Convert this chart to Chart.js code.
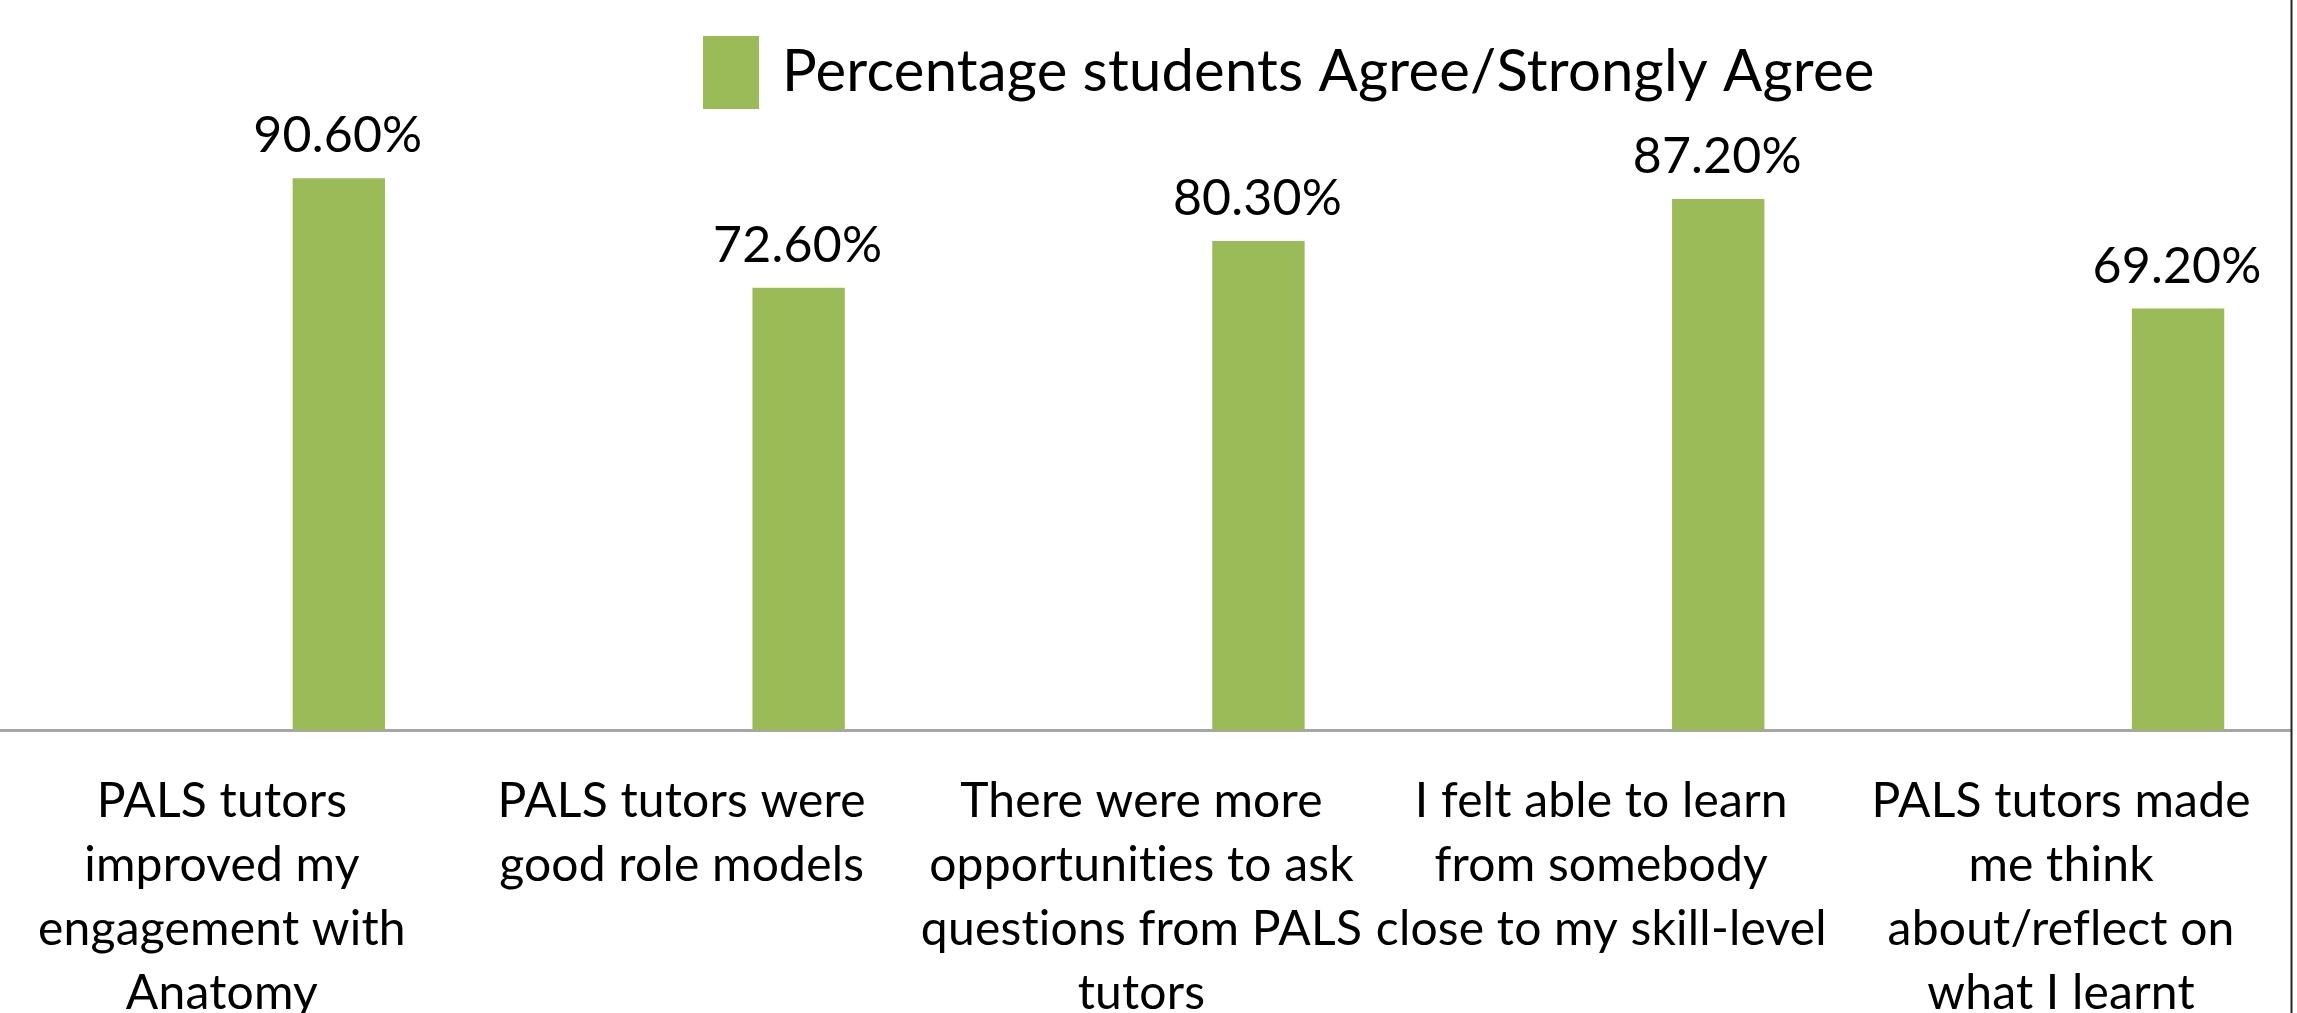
<!DOCTYPE html>
<html>
<head>
<meta charset="utf-8">
<script src="https://cdn.jsdelivr.net/npm/chart.js@4.4.0/dist/chart.umd.min.js"></script>
<style>
  html, body { margin: 0; padding: 0; background: #ffffff; overflow: hidden; width: 2297px; height: 1013px; }
  #wrap { position: absolute; left: -8px; top: 0; width: 2305px; height: 1013px; }
  canvas { display: block; }
</style>
</head>
<body>
<div id="wrap"><canvas id="c" width="2305" height="1013"></canvas></div>
<script>
// ---- data ----
const categories = [
  ["PALS tutors", "improved my", "engagement with", "Anatomy"],
  ["PALS tutors were", "good role models"],
  ["There were more", "opportunities to ask", "questions from PALS", "tutors"],
  ["I felt able to learn", "from somebody", "close to my skill-level"],
  ["PALS tutors made", "me think", "about/reflect on", "what I learnt"]
];
const seriesName = "Percentage students Agree/Strongly Agree";
const agreeValues = [90.6, 72.6, 80.3, 87.2, 69.2];
// empty series occupying the first two slots of each cluster (no bars drawn)
const emptySeriesA = [null, null, null, null, null];
const emptySeriesB = [null, null, null, null, null];
const valueLabels = ["90.60%", "72.60%", "80.30%", "87.20%", "69.20%"];
const yMin = 0, yMax = 100;

const GREEN = "#9BBB59";
const FONT = "Lato, 'Open Sans', 'DejaVu Sans', sans-serif";

const noLigaturePlugin = {
  id: "noLigatures",
  beforeDraw(chart) {
    try { chart.ctx.letterSpacing = "0.2px"; } catch (e) {}
  }
};

const dataLabelPlugin = {
  id: "dataLabels",
  afterDatasetsDraw(chart) {
    const ctx = chart.ctx;
    const dsIndex = 2;
    const meta = chart.getDatasetMeta(dsIndex);
    ctx.save();
    ctx.fillStyle = "#000000";
    ctx.font = "50px " + FONT;
    ctx.textAlign = "center";
    ctx.textBaseline = "alphabetic";
    meta.data.forEach((bar, i) => {
      ctx.fillText(valueLabels[i], bar.x - 1, bar.y - 26);
    });
    ctx.restore();
  }
};

const legendPlugin = {
  id: "customLegend",
  afterDraw(chart) {
    const ds = chart.data.datasets[2];
    const ctx = chart.ctx;
    const off = 8; // canvas shifted left by 8px
    ctx.save();
    ctx.fillStyle = ds.backgroundColor;
    ctx.fillRect(703 + off, 36, 56, 73);
    ctx.fillStyle = "#000000";
    ctx.font = "58px " + FONT;
    ctx.textAlign = "left";
    ctx.textBaseline = "alphabetic";
    ctx.fillText(ds.label, 782 + off, 91);
    ctx.restore();
  }
};

const borderPlugin = {
  id: "rightBorder",
  afterDraw(chart) {
    const ctx = chart.ctx;
    ctx.save();
    ctx.strokeStyle = "#262626";
    ctx.lineWidth = 2;
    ctx.beginPath();
    ctx.moveTo(chart.chartArea.right + 0.5, 0);
    ctx.lineTo(chart.chartArea.right + 0.5, chart.height);
    ctx.stroke();
    ctx.restore();
  }
};

new Chart(document.getElementById("c"), {
  type: "bar",
  data: {
    labels: categories,
    datasets: [
      { label: "A", data: emptySeriesA, backgroundColor: GREEN },
      { label: "B", data: emptySeriesB, backgroundColor: GREEN },
      { label: seriesName, data: agreeValues, backgroundColor: GREEN, borderWidth: 0 }
    ]
  },
  options: {
    responsive: false,
    animation: false,
    devicePixelRatio: 1,
    categoryPercentage: 0.763,
    barPercentage: 0.79,
    layout: { padding: { top: 121, right: 6, left: 0, bottom: 0 } },
    plugins: {
      legend: { display: false },
      title: { display: false },
      tooltip: { enabled: false }
    },
    scales: {
      x: {
        grid: { display: false, drawTicks: false },
        border: { display: true, color: "#a6a6a6", width: 3 },
        ticks: {
          color: "#000000",
          font: { family: FONT, size: 48, lineHeight: 1.33 },
          padding: 40,
          maxRotation: 0,
          minRotation: 0,
          autoSkip: false
        },
        afterFit(scale) { scale.height = 283; }
      },
      y: {
        display: false,
        min: yMin,
        max: yMax
      }
    }
  },
  plugins: [noLigaturePlugin, dataLabelPlugin, legendPlugin, borderPlugin]
});
</script>
</body>
</html>
